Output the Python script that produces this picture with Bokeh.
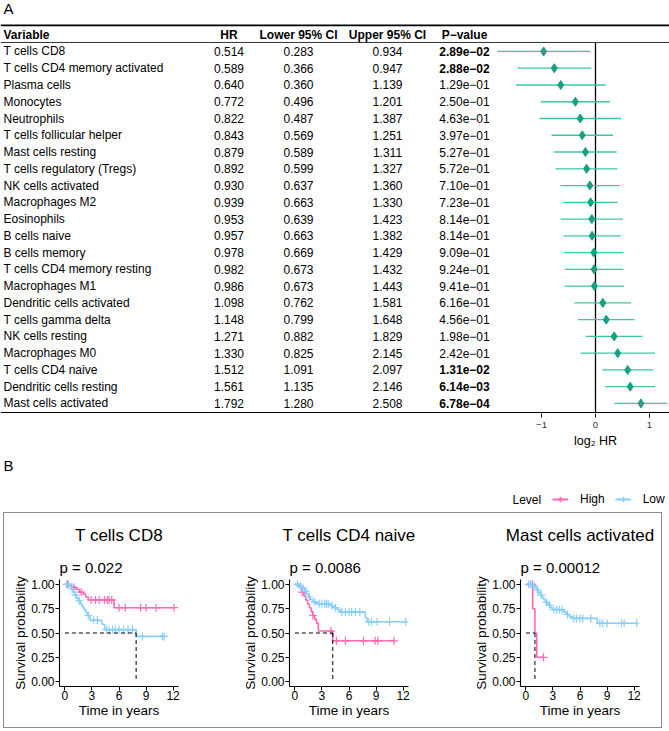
import numpy as np
from bokeh.plotting import figure
from bokeh.models import (Range1d, LinearAxis, FixedTicker, Span, Legend, LegendItem,
                          Title, ColumnDataSource, PrintfTickFormatter)
from bokeh.layouts import column, row
from bokeh.embed import file_html
from bokeh.resources import INLINE
from bokeh.core.properties import value

FONT = "Liberation Sans"

# ---------------- Panel A data ----------------
variables = ["T cells CD8", "T cells CD4 memory activated", "Plasma cells", "Monocytes",
             "Neutrophils", "T cells follicular helper", "Mast cells resting",
             "T cells regulatory (Tregs)", "NK cells activated", "Macrophages M2",
             "Eosinophils", "B cells naive", "B cells memory", "T cells CD4 memory resting",
             "Macrophages M1", "Dendritic cells activated", "T cells gamma delta",
             "NK cells resting", "Macrophages M0", "T cells CD4 naive",
             "Dendritic cells resting", "Mast cells activated"]
hr = [0.514, 0.589, 0.640, 0.772, 0.822, 0.843, 0.879, 0.892, 0.930, 0.939, 0.953,
      0.957, 0.978, 0.982, 0.986, 1.098, 1.148, 1.271, 1.330, 1.512, 1.561, 1.792]
lower = [0.283, 0.366, 0.360, 0.496, 0.487, 0.569, 0.589, 0.599, 0.637, 0.663, 0.639,
         0.663, 0.669, 0.673, 0.673, 0.762, 0.799, 0.882, 0.825, 1.091, 1.135, 1.280]
upper = [0.934, 0.947, 1.139, 1.201, 1.387, 1.251, 1.311, 1.327, 1.360, 1.330, 1.423,
         1.382, 1.429, 1.432, 1.443, 1.581, 1.648, 1.829, 2.145, 2.097, 2.146, 2.508]
pval = [2.89e-02, 2.88e-02, 1.29e-01, 2.50e-01, 4.63e-01, 3.97e-01, 5.27e-01, 5.72e-01,
        7.10e-01, 7.23e-01, 8.14e-01, 8.14e-01, 9.09e-01, 9.24e-01, 9.41e-01, 6.16e-01,
        4.56e-01, 1.98e-01, 2.42e-01, 1.31e-02, 6.14e-03, 6.78e-04]
headers = ["Variable", "HR", "Lower 95% CI", "Upper 95% CI", "P\u2212value"]
hr_ticks = [-1, 0, 1]
hr_axis_label = "log\u2082 HR"

# ---------------- Panel B data (Kaplan-Meier step curves) ----------------
cd8_high_t = [0, 0.7, 1.2, 1.6, 2.0, 2.3, 2.6, 5.45]
cd8_high_s = [1.0, 0.97, 0.95, 0.92, 0.90, 0.87, 0.84, 0.76]
cd8_high_end = 12.1
cd8_high_cens = [0.3, 1.0, 1.8, 2.9, 3.4, 3.8, 4.4, 4.7, 4.9, 5.2, 6.0, 6.7, 8.4, 9.0, 10.1, 12.1]
cd8_low_t = [0, 0.5, 0.7, 0.9, 1.1, 1.3, 1.5, 1.7, 1.9, 2.1, 2.3, 2.5, 2.8, 4.1, 4.4, 7.9]
cd8_low_s = [1.0, 0.98, 0.95, 0.92, 0.89, 0.86, 0.83, 0.80, 0.77, 0.74, 0.71, 0.68, 0.63,
             0.59, 0.535, 0.465]
cd8_low_end = 11.0
cd8_low_cens = [0.2, 0.4, 0.8, 1.2, 1.6, 2.6, 3.2, 3.6, 4.6, 4.9, 5.3, 5.6, 6.0, 6.5, 7.0,
                7.5, 8.6, 10.8, 11.0]

cd4n_high_t = [0, 0.6, 0.8, 1.0, 1.2, 1.4, 1.6, 1.8, 2.0, 2.2, 2.4, 2.6, 4.2]
cd4n_high_s = [1.0, 0.96, 0.92, 0.88, 0.84, 0.80, 0.76, 0.72, 0.68, 0.64, 0.60, 0.52, 0.42]
cd4n_high_end = 11.0
cd4n_high_cens = [0.8, 2.0, 4.0, 4.6, 5.6, 7.6, 8.9, 9.2, 11.0]
cd4n_low_t = [0, 0.4, 0.8, 1.1, 1.3, 1.5, 1.7, 2.0, 2.4, 3.9, 4.3, 4.7, 5.0, 7.8, 8.0]
cd4n_low_s = [1.0, 0.98, 0.96, 0.93, 0.90, 0.87, 0.845, 0.82, 0.80, 0.78, 0.76, 0.74, 0.715,
              0.66, 0.615]
cd4n_low_end = 12.3
cd4n_low_cens = [0.3, 0.6, 0.9, 1.2, 1.6, 2.2, 2.7, 3.0, 3.3, 3.5, 3.7, 4.1, 4.5, 5.2, 5.6,
                 6.0, 6.3, 6.7, 7.2, 8.2, 8.5, 9.1, 10.5, 12.3]

mast_high_t = [0, 0.75, 1.0, 1.2]
mast_high_s = [1.0, 0.75, 0.5, 0.25]
mast_high_end = 1.95
mast_high_cens = [0.7, 1.95]
mast_low_t = [0, 0.8, 1.0, 1.2, 1.4, 1.6, 1.8, 2.0, 2.2, 2.4, 2.7, 2.9, 4.2, 4.5, 4.8, 5.1, 7.9]
mast_low_s = [1.0, 0.985, 0.965, 0.94, 0.915, 0.89, 0.865, 0.84, 0.815, 0.79, 0.765, 0.74,
              0.715, 0.69, 0.67, 0.65, 0.60]
mast_low_end = 12.3
mast_low_cens = [0.3, 0.5, 0.9, 1.3, 1.7, 2.3, 2.6, 3.1, 3.4, 3.7, 4.0, 4.6, 5.3, 5.6, 6.0,
                 6.3, 7.2, 8.2, 8.5, 9.0, 10.6, 10.9, 12.3]

km_titles = ["T cells CD8", "T cells CD4 naive", "Mast cells activated"]
km_pvalues = ["p = 0.022", "p = 0.0086", "p = 0.00012"]
levels = ["High", "Low"]
time_ticks = [0, 3, 6, 9, 12]
surv_ticks = [0, 0.25, 0.5, 0.75, 1.0]

# ---------------- styles ----------------
TEAL_LINE = "#3cc6a4"
TEAL_PT = "#14a085"
PINK = "#ff69b4"
BLUE = "#87cefa"

# ================= Panel A =================
FW = 669
rows = list(range(1, len(variables) + 1))
ROW_TOP, ROW_RULE, ROW_BOTTOM = -2.04, 22.54, 22.60
pa = figure(frame_width=FW, frame_height=413, x_range=Range1d(0, FW),
            y_range=Range1d(ROW_BOTTOM, ROW_TOP), x_axis_type=None, y_axis_type=None,
            output_backend="svg", toolbar_location=None, title=None,
            min_border_left=0, min_border_right=0, min_border_top=0, min_border_bottom=19,
            outline_line_color=None)
HR_MIN, HR_MAX = -595 / 54, (FW - 595) / 54
pa.extra_x_ranges = {"hr": Range1d(HR_MIN, HR_MAX)}

col_x = [3, 228.5, 298, 387, 464]
fmt_p = lambda v: f"{v:.2e}".replace("-", "\u2212")
src = ColumnDataSource(dict(
    y=rows, var=variables,
    hr=[f"{v:.3f}" for v in hr], lo=[f"{v:.3f}" for v in lower], up=[f"{v:.3f}" for v in upper],
    lhr=np.log2(hr), llo=np.log2(lower), lup=np.log2(upper)))
txt = dict(text_font=value(FONT), text_font_size="12px", text_baseline="middle",
           text_color="black")
pa.text(x=col_x[0], y="y", text="var", source=src, text_align="left", **txt)
pa.text(x=col_x[1], y="y", text="hr", source=src, text_align="center", **txt)
pa.text(x=col_x[2], y="y", text="lo", source=src, text_align="center", **txt)
pa.text(x=col_x[3], y="y", text="up", source=src, text_align="center", **txt)
sig = [i for i, v in enumerate(pval) if v < 0.05]
nsig = [i for i, v in enumerate(pval) if v >= 0.05]
pa.text(x=col_x[4], y=[rows[i] for i in nsig], text=[fmt_p(pval[i]) for i in nsig],
        text_align="center", **txt)
pa.text(x=col_x[4], y=[rows[i] for i in sig], text=[fmt_p(pval[i]) for i in sig],
        text_align="center", text_font_style="bold", **txt)
# header
pa.text(x=[col_x[0]], y=[0], text=[headers[0]], text_align="left", text_font_style="bold", **txt)
pa.text(x=col_x[1:], y=[0] * 4, text=headers[1:], text_align="center",
        text_font_style="bold", **txt)
pa.text(x=[3], y=[-1.55], text=["A"], text_align="left", text_baseline="middle",
        text_font=value(FONT), text_font_size="15px", text_color="black")

pa.add_layout(Span(location=-0.55, dimension="width", line_color="black", line_width=1.8))
pa.add_layout(Span(location=0.463, dimension="width", line_color="#333333", line_width=1))
pa.add_layout(Span(location=ROW_RULE, dimension="width", line_color="black", line_width=1.1))

# forest
pa.segment(x0=[0], y0=[0.463], x1=[0], y1=[ROW_RULE], x_range_name="hr",
           line_color="black", line_width=1.3)
pa.segment(x0="llo", y0="y", x1="lup", y1="y", source=src, x_range_name="hr",
           line_color=TEAL_LINE, line_width=1.3)
pa.scatter(x="lhr", y="y", source=src, x_range_name="hr", marker="diamond", size=9,
           fill_color=TEAL_PT, line_color=TEAL_PT)

ax = LinearAxis(x_range_name="hr", ticker=FixedTicker(ticks=hr_ticks),
                major_label_overrides={-1: "\u22121", 0: "0", 1: "1"})
ax.axis_line_color = None
ax.major_tick_line_color = "black"
ax.major_tick_out = 4
ax.major_tick_in = 0
ax.minor_tick_line_color = None
ax.major_label_text_font = FONT
ax.major_label_text_font_size = "9.5px"
ax.major_label_text_color = "#333333"
ax.major_label_standoff = 4
pa.add_layout(ax, "below")

# ================= Panel B header (with the forest axis title on top) =================
HH = 80
ph = figure(frame_width=FW, frame_height=HH, x_range=Range1d(0, FW), y_range=Range1d(HH, 0),
            x_axis_type=None, y_axis_type=None, output_backend="svg", toolbar_location=None,
            title=None, min_border=0, outline_line_color=None)
ph.extra_x_ranges = {"hr": Range1d(HR_MIN, HR_MAX)}
ph.text(x=[0], y=[8], text=[hr_axis_label], x_range_name="hr", text_align="center",
        text_baseline="middle", text_font=value(FONT), text_font_size="12.5px",
        text_color="black")
ph.text(x=[3], y=[33], text=["B"], text_align="left", text_baseline="middle",
        text_font=value(FONT), text_font_size="15px", text_color="black")
ph.text(x=[512], y=[67], text=["Level"], text_align="left", text_baseline="middle",
        text_font=value(FONT), text_font_size="12px", text_color="black")
items = []
for lev, colr in zip(levels, [PINK, BLUE]):
    rl = ph.line(x=[-1000, -999], y=[-1000, -1000], line_color=colr, line_width=2)
    rc = ph.scatter(x=[-1000], y=[-1000], marker="cross", size=10, line_color=colr,
                    line_width=1.5)
    items.append(LegendItem(label=lev, renderers=[rl, rc]))
leg = Legend(items=items, orientation="horizontal", location=(552, 6),
             border_line_color=None, background_fill_alpha=0, padding=0, margin=0,
             glyph_width=16, glyph_height=14, label_standoff=12, spacing=10,
             label_text_font=FONT, label_text_font_size="12px", label_text_color="black")
ph.add_layout(leg)

# ================= Panel B KM plots =================
def step_val(times, surv, t):
    idx = np.searchsorted(np.asarray(times), np.asarray(t), side="right") - 1
    return np.asarray(surv)[idx]


def km_fig(title, ptext, groups, ml, mr):
    p = figure(frame_width=119, frame_height=107, x_range=Range1d(-0.6, 12.6),
               y_range=Range1d(-0.05, 1.05), output_backend="svg", toolbar_location=None,
               title=None, min_border_left=ml, min_border_right=mr, min_border_top=66,
               min_border_bottom=41, outline_line_color=None)
    p.xgrid.visible = False
    p.ygrid.visible = False
    p.xaxis.ticker = FixedTicker(ticks=time_ticks)
    p.yaxis.ticker = FixedTicker(ticks=surv_ticks)
    p.yaxis.formatter = PrintfTickFormatter(format="%.2f")
    p.xaxis.axis_label = "Time in years"
    p.yaxis.axis_label = "Survival probability"
    for a in (p.xaxis, p.yaxis):
        a.axis_line_color = "black"
        a.axis_line_width = 1.1
        a.major_tick_line_color = "black"
        a.major_tick_out = 4
        a.major_tick_in = 0
        a.minor_tick_line_color = None
        a.major_label_text_font = FONT
        a.major_label_text_font_size = "12px"
        a.major_label_text_color = "black"
        a.axis_label_text_font = FONT
        a.axis_label_text_font_size = "13.5px"
        a.axis_label_text_font_style = "normal"
        a.axis_label_text_color = "black"
    p.xaxis.major_label_standoff = 0
    p.xaxis.axis_label_standoff = 0
    p.yaxis.major_label_standoff = 1
    p.yaxis.axis_label_standoff = 0

    for (t, s, end, cens), colr in zip(groups, [PINK, BLUE]):
        xs = list(t) + [end]
        ys = list(s) + [s[-1]]
        p.step(x=xs, y=ys, mode="after", line_color=colr, line_width=1.6)
        p.scatter(x=cens, y=step_val(t, s, cens), marker="cross", size=8,
                  line_color=colr, line_width=1.2)
        below = [i for i, v in enumerate(s) if v <= 0.5]
        if below:
            med = t[below[0]]
            p.line(x=[0, med], y=[0.5, 0.5], line_color="black", line_dash="4 3", line_width=1)
            p.line(x=[med, med], y=[0.5, 0], line_color="black", line_dash="4 3", line_width=1)

    p.add_layout(Title(text=ptext, align="left", text_font=FONT, text_font_size="15px",
                       text_font_style="normal", text_color="black", standoff=7), "above")
    p.add_layout(Title(text=title, align="center", text_font=FONT, text_font_size="17px",
                       text_font_style="normal", text_color="black", standoff=18), "above")
    return p


k1 = km_fig(km_titles[0], km_pvalues[0],
            [(cd8_high_t, cd8_high_s, cd8_high_end, cd8_high_cens),
             (cd8_low_t, cd8_low_s, cd8_low_end, cd8_low_cens)], 55, 46)
k2 = km_fig(km_titles[1], km_pvalues[1],
            [(cd4n_high_t, cd4n_high_s, cd4n_high_end, cd4n_high_cens),
             (cd4n_low_t, cd4n_low_s, cd4n_low_end, cd4n_low_cens)], 65, 36)
k3 = km_fig(km_titles[2], km_pvalues[2],
            [(mast_high_t, mast_high_s, mast_high_end, mast_high_cens),
             (mast_low_t, mast_low_s, mast_low_end, mast_low_cens)], 76, 22)

krow = row(k1, k2, k3, margin=(0, 0, 0, 3), styles={"border": "1px solid #8c8c8c"})
layout = column(pa, ph, krow)

open("out.html", "w").write(file_html(layout, INLINE))
